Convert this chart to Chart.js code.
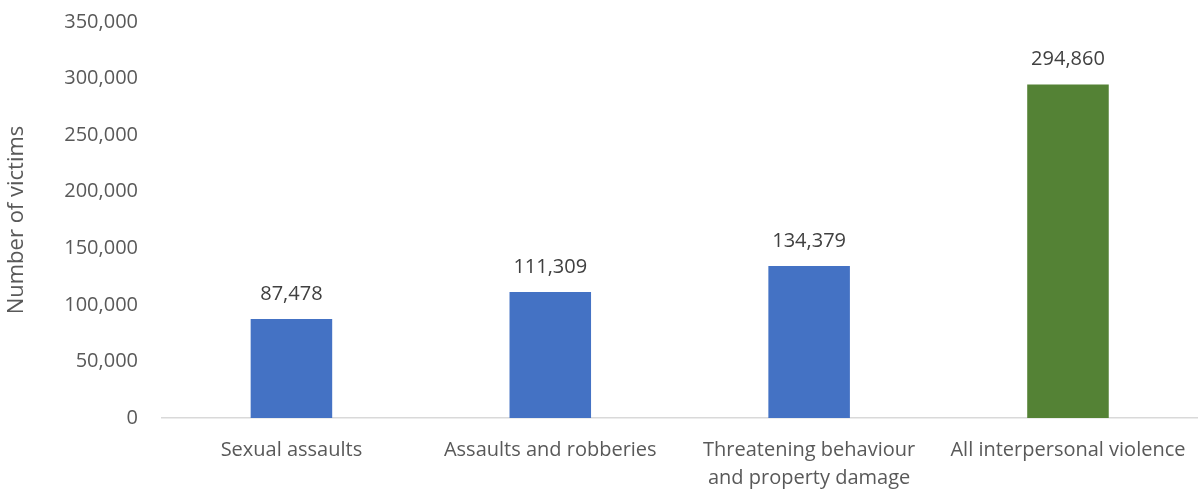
<!DOCTYPE html>
<html>
<head>
<meta charset="utf-8">
<script src="https://cdn.jsdelivr.net/npm/chart.js@4"></script>
<style>
  html, body { margin: 0; padding: 0; background: #fff; }
  #wrap { width: 1204px; height: 492px; }
</style>
</head>
<body>
<div id="wrap"><canvas id="chartVictimas"></canvas></div>
<script>
// Datos del gráfico
const categorias = ['Sexual assaults', 'Assaults and robberies', ['Threatening behaviour', 'and property damage'], 'All interpersonal violence'];
const victimas = [87478, 111309, 134379, 294860];
const coloresBarras = ['#4472c4', '#4472c4', '#4472c4', '#548235'];
const ticksY = [0, 50000, 100000, 150000, 200000, 250000, 300000, 350000];

const fuente = '"Open Sans", sans-serif';
const gris = '#595959';

// Etiquetas encima de las barras
const etiquetasValor = {
    id: 'etiquetasValor',
    afterDatasetsDraw(chart) {
        const ctx = chart.ctx;
        const meta = chart.getDatasetMeta(0);
        ctx.save();
        ctx.font = '20px ' + fuente;
        ctx.fillStyle = '#404040';
        ctx.textAlign = 'center';
        ctx.textBaseline = 'middle';
        meta.data.forEach((bar, i) => {
            ctx.fillText(victimas[i].toLocaleString('en-US'), bar.x, bar.y - 25);
        });
        ctx.restore();
    }
};

new Chart(document.getElementById('chartVictimas'), {
    type: 'bar',
    data: {
        labels: categorias,
        datasets: [{
            data: victimas,
            backgroundColor: coloresBarras,
            categoryPercentage: 1,
            barPercentage: 0.315
        }]
    },
    options: {
        responsive: true,
        maintainAspectRatio: false,
        animation: false,
        layout: { padding: { top: 22, right: 4, left: 0, bottom: 0 } },
        plugins: {
            legend: { display: false },
            tooltip: { enabled: false }
        },
        scales: {
            x: {
                grid: { display: false, drawTicks: false },
                border: { color: '#d9d9d9', width: 1.5 },
                ticks: {
                    color: gris,
                    font: { family: fuente, size: 20, lineHeight: 1.4 },
                    padding: 18,
                    maxRotation: 0,
                    autoSkip: false
                },
                afterFit: s => { s.height = 74; }
            },
            y: {
                min: 0,
                max: 350000,
                afterBuildTicks: s => { s.ticks = ticksY.map(v => ({ value: v })); },
                grid: { display: false, drawTicks: true, tickLength: 22 },
                border: { display: false },
                ticks: {
                    color: gris,
                    font: { family: fuente, size: 20 },
                    padding: 2,
                    callback: v => v.toLocaleString('en-US')
                },
                title: {
                    display: true,
                    text: 'Number of victims',
                    color: gris,
                    font: { family: fuente, size: 22 },
                    padding: { top: 4, bottom: 0 }
                },
                afterFit: s => { s.width = 162; }
            }
        }
    },
    plugins: [etiquetasValor]
});
</script>
</body>
</html>
